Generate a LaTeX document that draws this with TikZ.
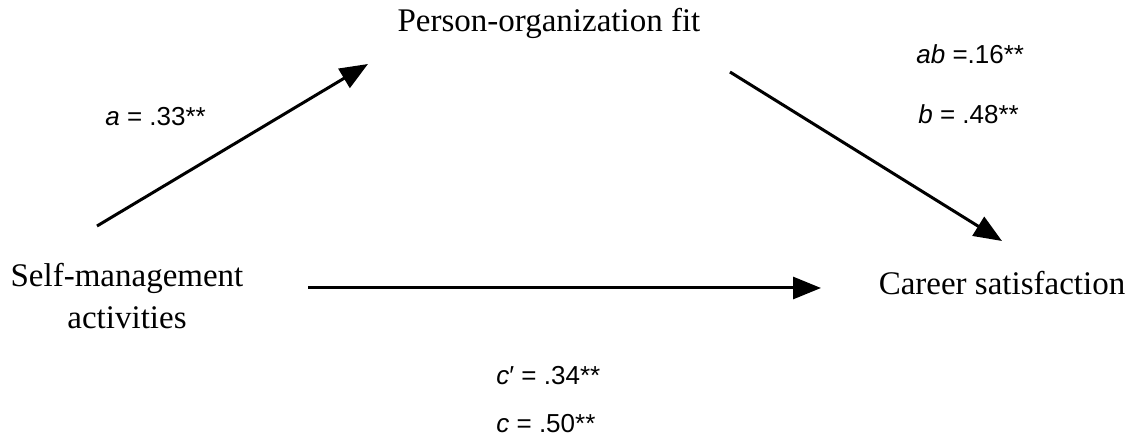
\documentclass[tikz,border=0pt]{standalone}
\usepackage{fontspec}
\setmainfont{Liberation Serif}
\setsansfont{Liberation Sans}
\usetikzlibrary{arrows.meta}

\begin{document}
\begin{tikzpicture}[
  x=0.5pt,y=-0.5pt,
  var/.style={font=\fontsize{16.5}{21}\selectfont,align=center,inner sep=0pt},
  coef/.style={font=\sffamily\fontsize{13}{15}\selectfont,anchor=base west,inner sep=0pt},
  path/.style={line width=1.5pt,-{Triangle[length=14pt,width=11pt]}}
]
\useasboundingbox (0,0) rectangle (1131,443);
% variables
\node[var,anchor=base] (pof) at (549,32) {Person-organization fit};
\node[var] (sma) at (127,296) {Self-management\\activities};
\node[var,anchor=base] (cs) at (1002,295) {Career satisfaction};
% arrow ends
\coordinate (a0) at (97,226);  \coordinate (a1) at (368,64);
\coordinate (b0) at (730,72);  \coordinate (b1) at (1002,241);
\coordinate (c0) at (308,288); \coordinate (c1) at (821,288);
\draw[path] (a0) -- (a1);
\draw[path] (b0) -- (b1);
\draw[path] (c0) -- (c1);
% coefficients
\node[coef] (la) at (105,126) {\textit{a} = .33**};
\node[coef] (lab) at (916,64) {\textit{ab} =.16**};
\node[coef] (lb) at (918,124) {\textit{b} = .48**};
\node[coef] (lcp) at (496,385) {\textit{c}′ = .34**};
\node[coef] (lc) at (496,433) {\textit{c} = .50**};
\end{tikzpicture}
\end{document}
